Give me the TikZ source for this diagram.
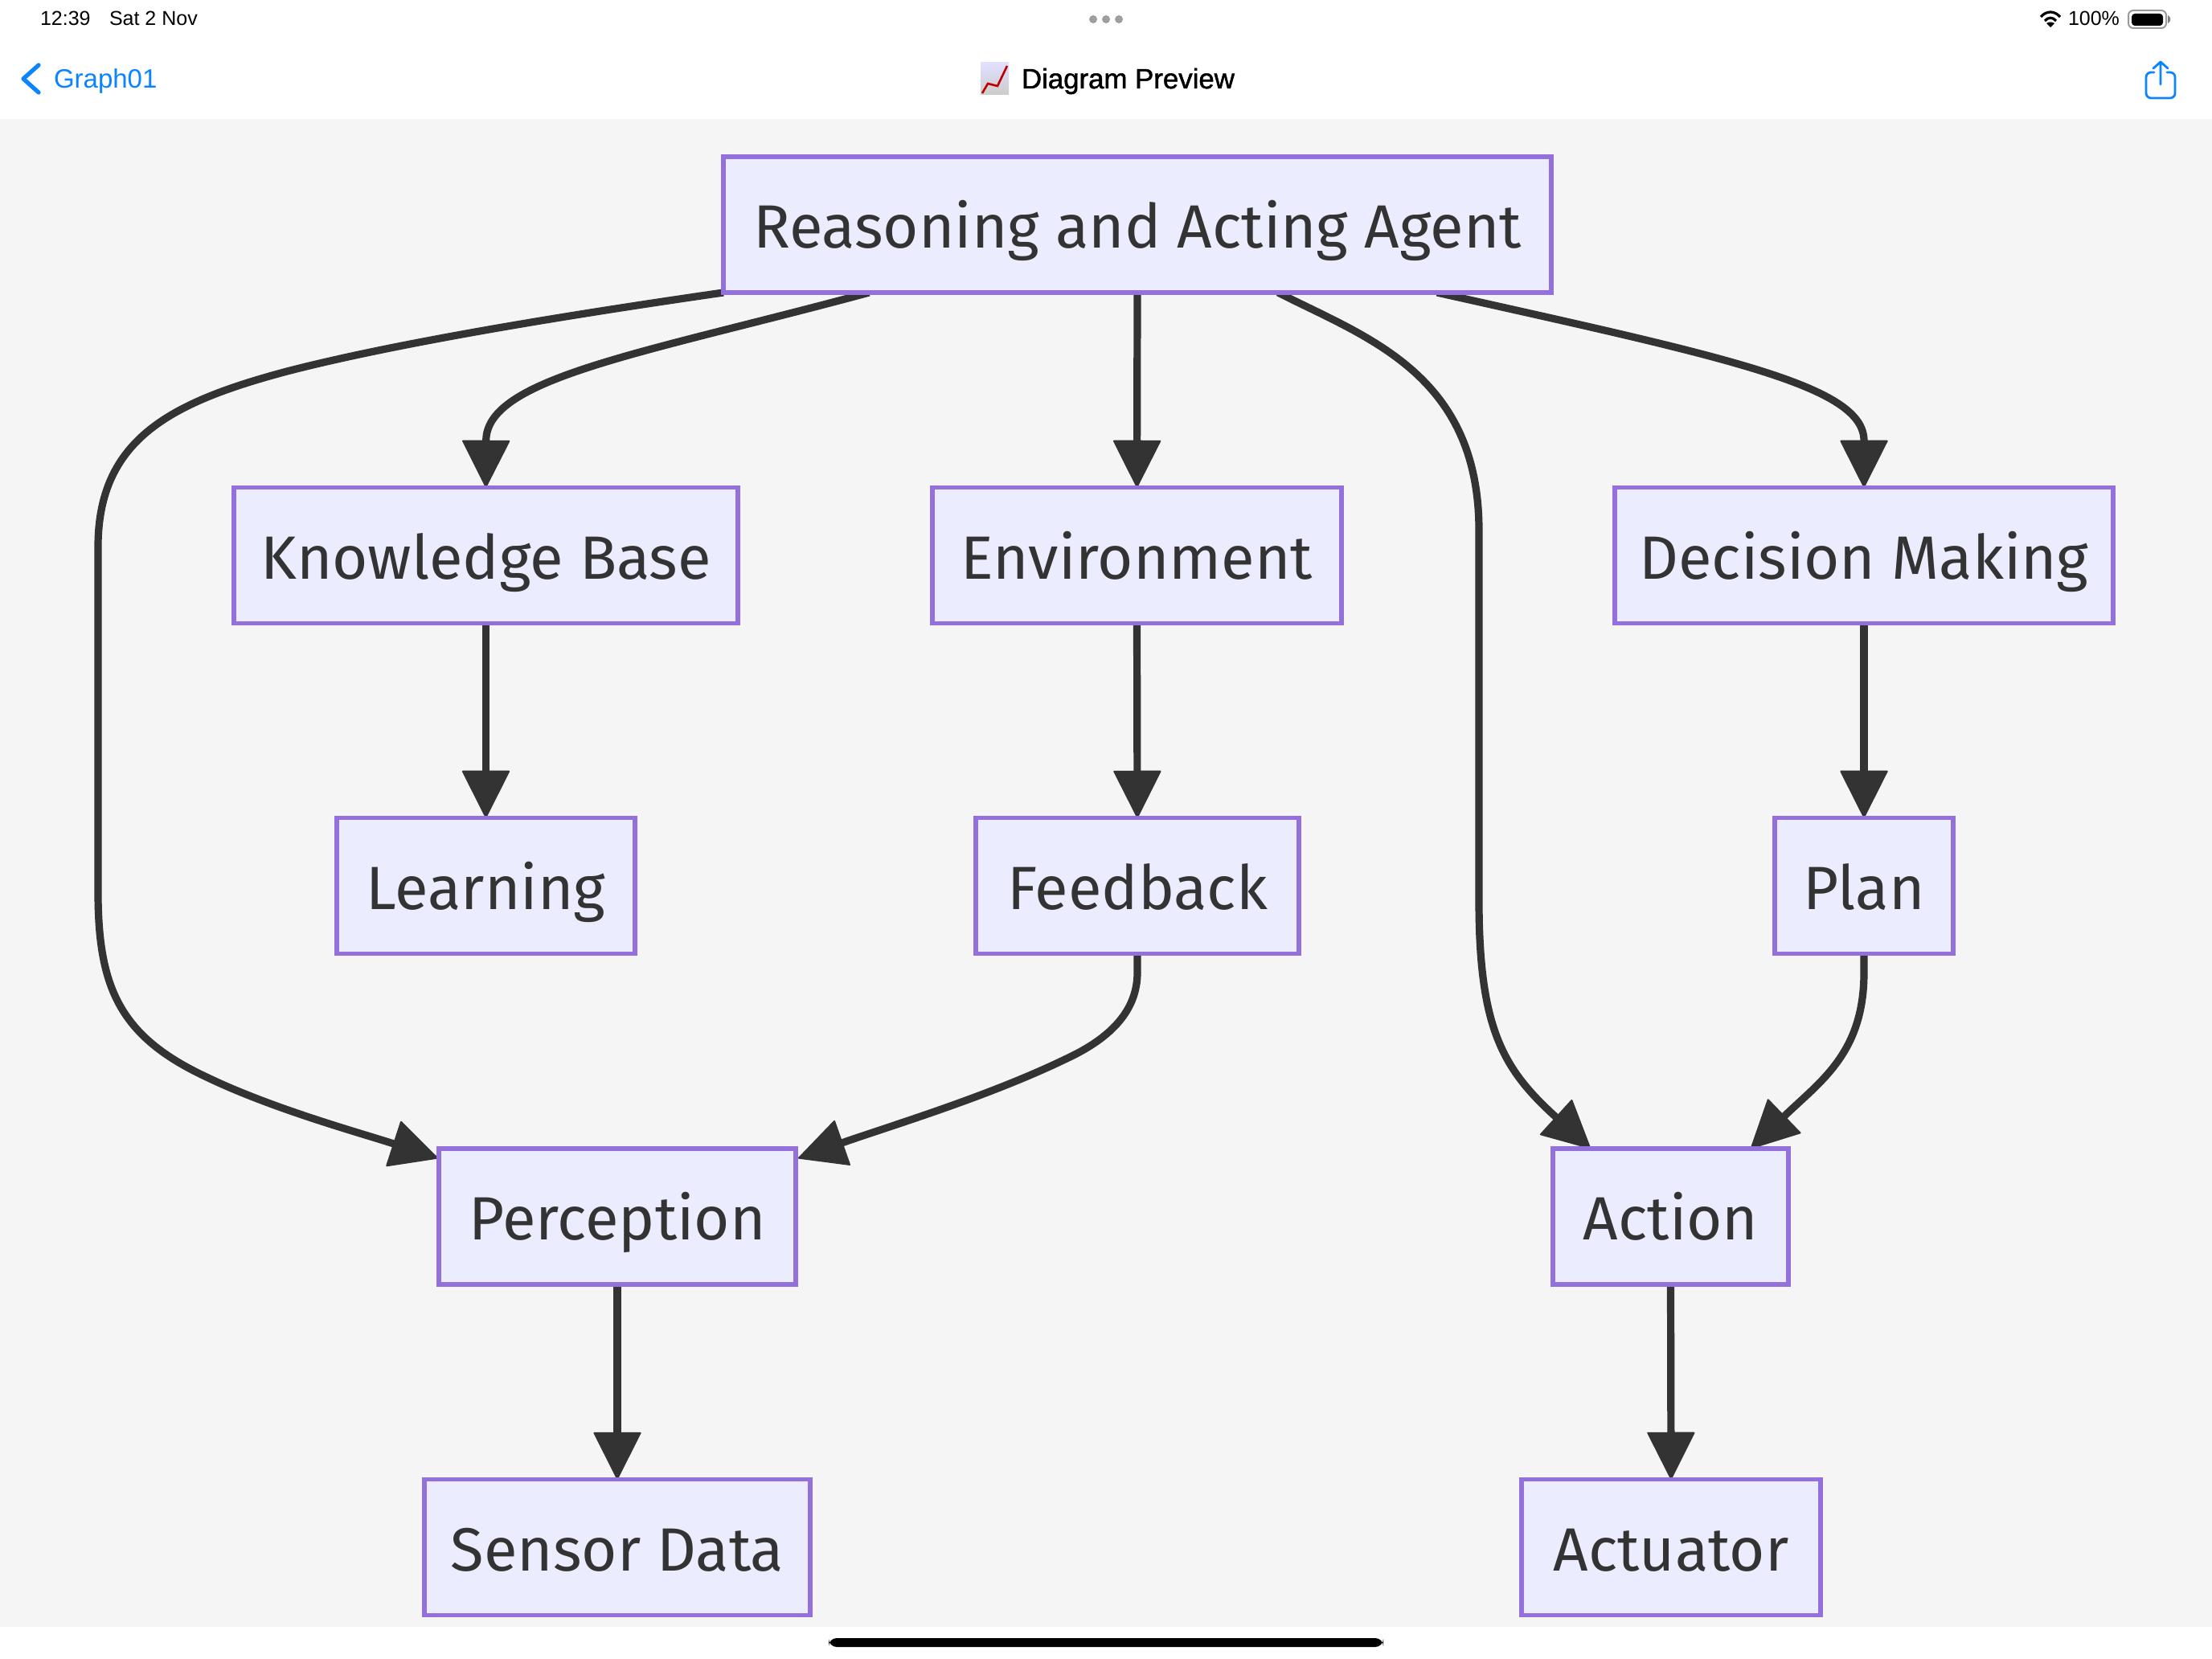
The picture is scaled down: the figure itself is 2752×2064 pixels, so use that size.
\documentclass[tikz,border=0pt]{standalone}
\usepackage{fontspec}
\setmainfont{Liberation Sans}
\newfontfamily\boxfont{Fira Sans}
\newfontfamily\titlefont[FakeBold=1.4]{Liberation Sans}
\usetikzlibrary{arrows.meta,calc}
\definecolor{edgecol}{HTML}{333333}
\definecolor{boxline}{HTML}{9370DB}
\definecolor{boxfill}{HTML}{ECECFF}
\definecolor{pagebg}{HTML}{F5F5F5}
\definecolor{iosblue}{HTML}{0A84FF}
\pgfdeclarelayer{edges}
\pgfsetlayers{edges,main}
\tikzset{
  box/.style={draw=boxline,fill=boxfill,line width=2.7pt,minimum height=84.5pt,inner sep=0pt,outer sep=0pt,
    text=edgecol,text height=29pt,text depth=0pt,font=\boxfont\fontsize{38}{40}\selectfont},
  edge/.style={draw=edgecol,line width=4.6pt,-{Triangle[length=30pt,width=30pt,line width=1pt,round]}},
  uitext/.style={inner sep=0pt,outer sep=0pt,anchor=base west,text=black},
  iosline/.style={draw=iosblue,line cap=round,line join=round}
}
\begin{document}
\begin{tikzpicture}[x=0.5pt,y=-0.5pt]
\useasboundingbox (0,0) rectangle (2752,2064);
\begin{pgfonlayer}{edges}
\fill[white] (0,0) rectangle (2752,2064);
\fill[pagebg] (0,148) rectangle (2752,2024);
\end{pgfonlayer}

% nodes
\node[box,minimum width=515pt] (top) at (1415,279.5) {Reasoning and Acting Agent};
\node[box,minimum width=313.5pt] (kb) at (604.5,691) {Knowledge Base};
\node[box,minimum width=254.5pt] (env) at (1414.5,691) {Environment};
\node[box,minimum width=310pt] (dm) at (2319,691) {Decision Making};
\node[box,minimum width=185.5pt] (learn) at (604.5,1102) {Learning};
\node[box,minimum width=201pt] (fb) at (1415,1102) {Feedback};
\node[box,minimum width=111pt] (plan) at (2319,1102) {Plan};
\node[box,minimum width=222pt] (perc) at (768,1513.5) {Perception};
\node[box,minimum width=146.5pt] (act) at (2078.5,1513.5) {Action};
\node[box,minimum width=240pt] (sens) at (768,1925) {Sensor Data};
\node[box,minimum width=186pt] (actu) at (2079,1925) {Actuator};

% connectors
\begin{pgfonlayer}{edges}
\draw[edge] (top.south west) .. controls (720,390) and (500,425) .. (357,462)
  .. controls (215,500) and (122,545) .. (122,680) -- (122,1110)
  .. controls (122,1230) and (150,1290) .. (257,1340)
  .. controls (340,1380) and (450,1410) .. ($(perc.north west)+(-1,12)$);
\draw[edge] ($(top.south west)!0.176!(top.south east)$) .. controls (800,440) and (605,470) .. (kb.north);
\draw[edge] (top.south) -- (env.north);
\draw[edge] ($(top.south west)!0.670!(top.south east)$) .. controls (1700,420) and (1840,465) .. (1840,660) -- (1840,1120)
  .. controls (1840,1280) and (1870,1330) .. ($(act.north west)!0.16!(act.north east)$);
\draw[edge] ($(top.south west)!0.862!(top.south east)$) .. controls (2150,445) and (2319,480) .. (dm.north);
\draw[edge] (kb.south) -- (learn.north);
\draw[edge] (env.south) -- (fb.north);
\draw[edge] (dm.south) -- (plan.north);
\draw[edge] (fb.south) -- (1415,1210) .. controls (1415,1255) and (1385,1290) .. (1327,1317)
  .. controls (1230,1364) and (1110,1400) .. ($(perc.north east)+(3,12)$);
\draw[edge] (plan.south) -- (2319,1210) .. controls (2319,1310) and (2265,1345) .. ($(act.north west)!0.84!(act.north east)$);
\draw[edge] (perc.south) -- (sens.north);
\draw[edge] (act.south) -- (actu.north);
\end{pgfonlayer}

% status bar
\node[uitext,font=\fontsize{12.5}{14}\selectfont] (clock) at (50,32) {12:39};
\node[uitext,font=\fontsize{12.5}{14}\selectfont] (date) at (136,32) {Sat 2 Nov};
\fill[black!38] (1360,24) circle (5) (1376,24) circle (5) (1392,24) circle (5);
\node[uitext,font=\fontsize{12.5}{14}\selectfont] (batt) at (2573,32) {100\%};
% wifi
\begin{scope}[draw=black,line width=1.6pt]
\draw (2539,21) .. controls (2546,13) and (2556,13) .. (2563,21);
\draw (2544,26) .. controls (2548,21) and (2554,21) .. (2558,26);
\fill[black] (2551,34) -- (2546,29) .. controls (2549,27) and (2553,27) .. (2556,29) -- cycle;
\end{scope}
% battery
\draw[black!40,line width=1pt,rounded corners=3pt] (2648,13) rectangle (2695,35);
\fill[black,rounded corners=2pt] (2652,17) rectangle (2691,32);
\fill[black!50] (2697,19) -- (2700,22) -- (2700,26) -- (2697,29) -- cycle;

% navigation bar
\draw[iosline,line width=2.6pt] (48,81) -- (29,98) -- (48,115);
\node[uitext,text=iosblue,font=\fontsize{16.5}{20}\selectfont] (back) at (67,110) {Graph01};
\shade[top color=blue!12,bottom color=black!20] (1220,78) rectangle (1255,118);
\draw[red!75!black,line width=1.3pt] (1222,116) -- (1229,104) -- (1241,107) -- (1253,82);
\node[uitext,font=\titlefont\fontsize{17.4}{20}\selectfont] (title) at (1271,110) {Diagram Preview};
% share icon
\draw[iosline,line width=1.4pt,rounded corners=3pt] (2680,90) -- (2670,90) -- (2670,122) -- (2706,122) -- (2706,90) -- (2696,90);
\draw[iosline,line width=1.4pt] (2688,105) -- (2688,77) (2679,85) -- (2688,77) -- (2697,85);
% home indicator
\fill[black,rounded corners=5pt] (1031,2038) rectangle (1721,2049);
\end{tikzpicture}
\end{document}
